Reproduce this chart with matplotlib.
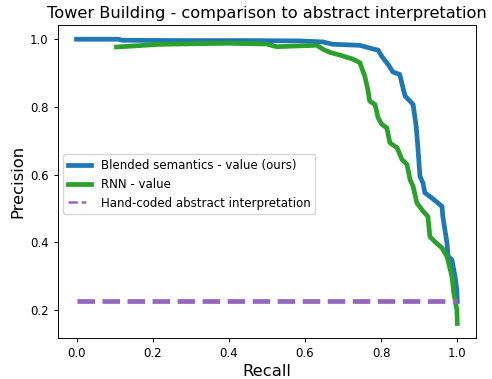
import matplotlib
matplotlib.use("Agg")
import matplotlib.pyplot as plt

blend_recall = [0.0, 0.11, 0.12, 0.30, 0.45, 0.587, 0.647, 0.673, 0.744, 0.776, 0.792,
                0.802, 0.818, 0.831, 0.849, 0.855, 0.863, 0.876, 0.884, 0.892,
                0.897, 0.902, 0.910, 0.915, 0.933, 0.960, 0.962, 0.973, 0.976,
                0.986, 0.994, 0.999, 1.0]
blend_prec = [1.0, 1.0, 0.997, 0.996, 0.996, 0.995, 0.992, 0.985, 0.982, 0.972, 0.968,
              0.949, 0.926, 0.903, 0.896, 0.867, 0.832, 0.817, 0.807, 0.743,
              0.674, 0.595, 0.575, 0.546, 0.531, 0.506, 0.476, 0.398, 0.358,
              0.348, 0.299, 0.259, 0.225]

rnn_recall = [0.105, 0.219, 0.394, 0.499, 0.525, 0.631, 0.648, 0.666, 0.692, 0.726,
              0.744, 0.757, 0.765, 0.770, 0.784, 0.792, 0.802, 0.815, 0.823,
              0.842, 0.855, 0.868, 0.876, 0.884, 0.894, 0.910, 0.923, 0.928,
              0.941, 0.960, 0.973, 0.986, 0.991, 0.999, 1.0]
rnn_prec = [0.977, 0.985, 0.988, 0.986, 0.978, 0.982, 0.970, 0.961, 0.953, 0.941,
            0.931, 0.891, 0.852, 0.817, 0.807, 0.768, 0.748, 0.738, 0.694,
            0.679, 0.644, 0.630, 0.585, 0.565, 0.516, 0.492, 0.476, 0.417,
            0.402, 0.383, 0.358, 0.299, 0.249, 0.200, 0.160]

baseline_recall = [0.0, 1.0]
baseline_prec = [0.225, 0.225]

labels = ["Blended semantics - value (ours)", "RNN - value",
          "Hand-coded abstract interpretation"]

fig = plt.figure(figsize=(4.92, 3.79), dpi=100)
ax = fig.add_axes([0.1169, 0.109, 0.8512, 0.825])
lw = 3.4
ax.plot(blend_recall, blend_prec, color="#1f77b4", lw=lw, label=labels[0])
ax.plot(rnn_recall, rnn_prec, color="#2ca02c", lw=lw, label=labels[1])
ax.plot(baseline_recall, baseline_prec, color="#9467bd", lw=lw, ls="--", label=labels[2])

ax.set_xticks([0.0, 0.2, 0.4, 0.6, 0.8, 1.0])
ax.set_yticks([0.2, 0.4, 0.6, 0.8, 1.0])
ax.tick_params(labelsize=8.45, length=2.96, width=0.68)
for s in ax.spines.values():
    s.set_linewidth(0.68)
ax.set_xlabel("Recall", fontsize=11.8, labelpad=3)
ax.set_ylabel("Precision", fontsize=11.8, labelpad=3)
ax.set_title("Tower Building - comparison to abstract interpretation", fontsize=11.7, pad=5)
leg = ax.legend(loc="upper left", bbox_to_anchor=(0.0138, 0.587), borderaxespad=0,
                fontsize=8.45)
pl = leg.get_lines()[2]
pl.set_linewidth(1.8)
pl.set_linestyle((0, (3.7, 1.6, 1.85, 10)))

fig.savefig("out.png", dpi=100)
